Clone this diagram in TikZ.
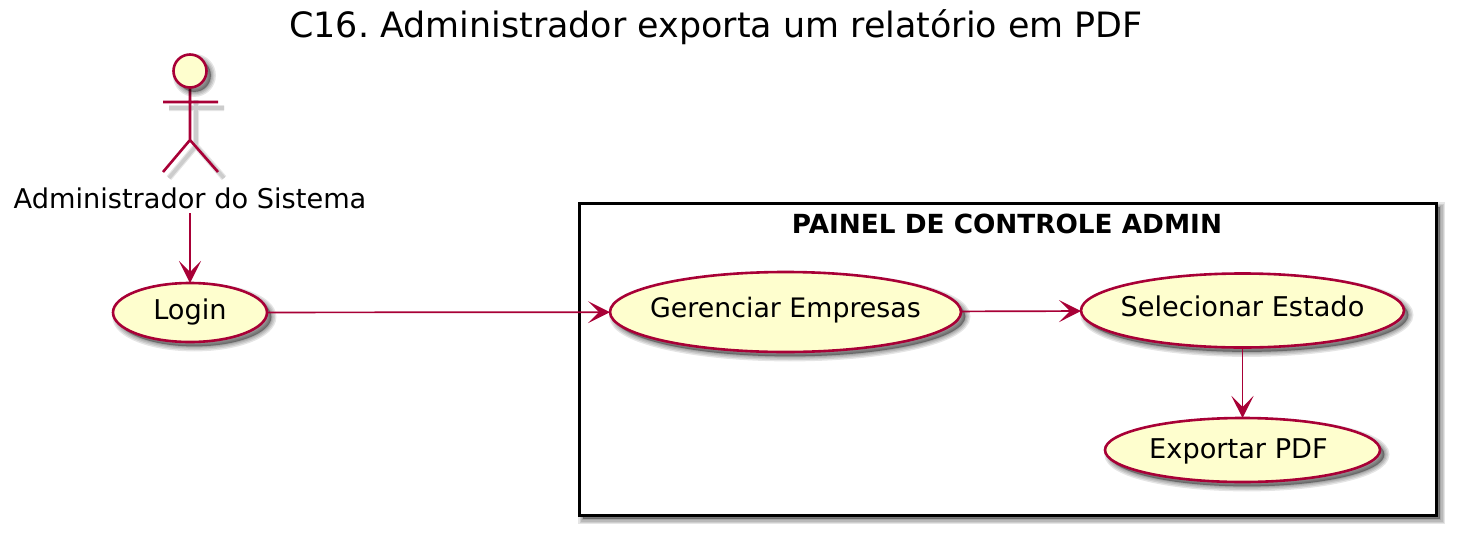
\documentclass[tikz,border=0pt]{standalone}
\usepackage{fontspec}
\setmainfont{DejaVu Sans}
\usepackage{tikz}
\usetikzlibrary{shapes.geometric, positioning, arrows.meta}
\definecolor{UMLRed}{RGB}{168,0,54}
\definecolor{UMLYellow}{RGB}{254,254,206}

\begin{document}
\frenchspacing
\begin{tikzpicture}[
          x=0.5pt, y=-0.5pt,
          shadowlayer/.style={preaction={fill=black, fill opacity=0.1, draw=black,
                     draw opacity=0.1, line width=#1,
                     transform canvas={shift={(2.2pt,-2.2pt)}}}},
          softshadow/.style={shadowlayer=5pt, shadowlayer=3.6pt, shadowlayer=2.2pt, shadowlayer=1pt},
          usecase/.style={ellipse, draw=UMLRed, fill=UMLYellow, line width=1.3pt,
                     inner sep=0pt, outer sep=0pt, font=\fontsize{13.6}{15}\selectfont,
                     text height=9.6pt, text depth=0pt, softshadow},
          link/.style={draw=UMLRed, line width=0.85pt,
                     -{Stealth[length=11pt, width=11pt, inset=5.5pt]}},
          limb/.style={draw=UMLRed, line width=1.3pt},
          limbshadow/.style={draw=black!10, line width=3pt},
          limbcore/.style={draw=black!20, line width=1.8pt}
        ]
        \useasboundingbox (0,0) rectangle (1458,536);

        % Title
        \node[font=\fontsize{17.45}{20}\selectfont] (title) at (716,27)
              {C16. Administrador exporta um relatório em PDF};

        % Actor
        \foreach \shade in {limbshadow, limbcore}
          \draw[\shade] (196,100) -- (196,146) (169,108) -- (224,108)
                (169,178) -- (196,146) -- (224,178);
        \draw[limb] (190,87) -- (190,140) (163,102) -- (218,102)
              (163,172) -- (190,140) -- (218,172);
        \node[circle, draw=UMLRed, fill=UMLYellow, line width=1.3pt, inner sep=0pt,
              minimum size=16.5pt, softshadow] (head) at (190,71) {};
        \node[font=\fontsize{13.6}{15}\selectfont, inner sep=0pt, text height=11pt,
              text depth=2pt, minimum height=14pt] (admin) at (190,199)
              {Administrador do Sistema};

        % Frame
        \node[draw=black, fill=white, line width=1.5pt, inner sep=0pt, outer sep=0pt,
              minimum width=428.5pt, minimum height=156pt, softshadow] (panel)
              at (1007.5,359) {};
        \node[font=\fontsize{13.15}{15}\selectfont\bfseries, inner sep=0pt] (paneltitle)
              at (1007,224) {PAINEL DE CONTROLE ADMIN};

        % Use cases
        \node[usecase, minimum width=77pt, minimum height=29.5pt, text depth=2.5pt] (login)
              at (190,312.5) {\makebox[0pt]{Login}};
        \node[usecase, minimum width=175.5pt, minimum height=40pt, text depth=4pt,
              font=\fontsize{13.4}{15}\selectfont] (manage)
              at (785.5,312) {\makebox[0pt]{Gerenciar Empresas}};
        \node[usecase, minimum width=161.5pt, minimum height=37pt, text depth=4pt] (state)
              at (1242.5,310.5) {\makebox[0pt]{Selecionar Estado}};
        \node[usecase, minimum width=137.5pt, minimum height=32pt, text depth=1pt] (export)
              at (1242.5,450) {\makebox[0pt]{Exportar PDF\hspace{4pt}}};

        % Links
        \draw[link] (admin) -- (login);
        \draw[link] (login) -- (manage);
        \draw[link] (manage) -- (state);
        \draw[link] (state) -- (export);
      \end{tikzpicture}
\end{document}
